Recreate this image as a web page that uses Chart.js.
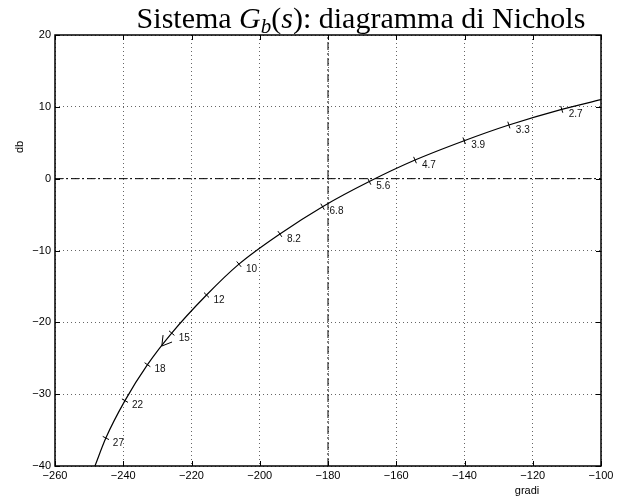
<!DOCTYPE html>
<html>
<head>
<meta charset="utf-8">
<title>Sistema Gb(s): diagramma di Nichols</title>
<script src="https://cdn.jsdelivr.net/npm/chart.js@4.4.1/dist/chart.umd.min.js"></script>
<style>
html, body { margin: 0; padding: 0; background: #fff; }
#wrap { width: 625px; height: 498px; }
</style>
</head>
<body>
<div id="wrap"><canvas id="nicholsChart" width="625" height="498"></canvas></div>
<script>

/* =====================================
   DATA
===================================== */

// frequency marks along the curve (rad/s)
const freqLabels = ["2.7", "3.3", "3.9", "4.7", "5.6", "6.8", "8.2", "10", "12", "15", "18", "22", "27"];

// phase (gradi) and gain (db) at each mark
const phaseDeg = [-111.5, -127.0, -140.1, -154.5, -167.9, -181.6, -194.1, -206.1, -215.6, -225.8, -232.9, -239.5, -245.1];
const gainDb = [9.65, 7.47, 5.28, 2.59, -0.4, -3.9, -7.7, -11.9, -16.2, -21.5, -25.9, -30.9, -36.1];

// where the curve leaves the axes
const curveStart = { phase: -248.3, gain: -40 };
const curveEnd = { phase: -100, gain: 11.0 };

// direction arrow on the curve (towards higher frequency)
const arrowAt = { phase: -228.7, gain: -23.3 };

// reference lines
const criticalPhase = -180;
const zeroDb = 0;

// tick labels
const xTickValues = [-260, -240, -220, -200, -180, -160, -140, -120, -100];
const yTickValues = [-40, -30, -20, -10, 0, 10, 20];

/* =====================================
   BUILD DATASETS
===================================== */

const curvePoints = [{ x: curveStart.phase, y: curveStart.gain }];

for (let i = phaseDeg.length - 1; i >= 0; i--) {
    curvePoints.push({ x: phaseDeg[i], y: gainDb[i] });
}

curvePoints.push({ x: curveEnd.phase, y: curveEnd.gain });

const markPoints = phaseDeg.map((p, i) => ({ x: p, y: gainDb[i] }));

const xMin = xTickValues[0];
const xMax = xTickValues[xTickValues.length - 1];
const yMin = yTickValues[0];
const yMax = yTickValues[yTickValues.length - 1];

const SANS = "'Liberation Sans', Arial, sans-serif";
const SERIF = "'Liberation Serif', 'Times New Roman', serif";

function fmtMinus(v) {
    return String(v).replace("-", "\u2212");
}

/* =====================================
   DECORATION PLUGIN
   (box, inward ticks, labels, arrow, title)
===================================== */

const nicholsDecor = {

    id: "nicholsDecor",

    afterDatasetsDraw(chart) {

        const ctx = chart.ctx;
        const sx = chart.scales.x;
        const sy = chart.scales.y;

        // frequency labels
        ctx.save();
        ctx.fillStyle = "#111";
        ctx.font = "10px " + SANS;
        ctx.textAlign = "left";
        ctx.textBaseline = "middle";
        freqLabels.forEach((lbl, i) => {
            const px = sx.getPixelForValue(phaseDeg[i]);
            const py = sy.getPixelForValue(gainDb[i]);
            ctx.fillText(lbl, px + 7, py + 5);
        });

        // arrow head, direction taken from marks "15" -> "18"
        const tipX = sx.getPixelForValue(arrowAt.phase);
        const tipY = sy.getPixelForValue(arrowAt.gain);
        const ax = sx.getPixelForValue(phaseDeg[9]) - sx.getPixelForValue(phaseDeg[10]);
        const ay = sy.getPixelForValue(gainDb[9]) - sy.getPixelForValue(gainDb[10]);
        const back = Math.atan2(ay, ax);
        const len = 11;
        const spread = 31 * Math.PI / 180;
        ctx.strokeStyle = "#000";
        ctx.lineWidth = 1;
        ctx.beginPath();
        ctx.moveTo(tipX + len * Math.cos(back - spread), tipY + len * Math.sin(back - spread));
        ctx.lineTo(tipX, tipY);
        ctx.lineTo(tipX + len * Math.cos(back + spread), tipY + len * Math.sin(back + spread));
        ctx.stroke();
        ctx.restore();
    },

    afterDraw(chart) {

        const ctx = chart.ctx;
        const a = chart.chartArea;
        const sx = chart.scales.x;
        const sy = chart.scales.y;
        const tick = 5;

        ctx.save();

        // axes box
        ctx.strokeStyle = "#000";
        ctx.lineWidth = 1.5;
        ctx.strokeRect(a.left, a.top, a.right - a.left, a.bottom - a.top);

        // inward ticks on all four sides
        ctx.lineWidth = 1;
        ctx.beginPath();
        xTickValues.forEach(v => {
            const px = Math.round(sx.getPixelForValue(v)) + 0.5;
            ctx.moveTo(px, a.bottom);
            ctx.lineTo(px, a.bottom - tick);
            ctx.moveTo(px, a.top);
            ctx.lineTo(px, a.top + tick);
        });
        yTickValues.forEach(v => {
            const py = Math.round(sy.getPixelForValue(v)) + 0.5;
            ctx.moveTo(a.left, py);
            ctx.lineTo(a.left + tick, py);
            ctx.moveTo(a.right, py);
            ctx.lineTo(a.right - tick, py);
        });
        ctx.stroke();

        // axis labels
        ctx.fillStyle = "#000";
        ctx.font = "11px " + SANS;
        ctx.textAlign = "center";
        ctx.textBaseline = "middle";
        ctx.fillText("gradi", 527, 491);

        ctx.save();
        ctx.translate(20, 147);
        ctx.rotate(-Math.PI / 2);
        ctx.fillText("db", 0, 0);
        ctx.restore();

        // title: Sistema G_b(s): diagramma di Nichols
        const size = 30;
        const parts = [
            { t: "Sistema ", f: size + "px " + SERIF, dy: 0 },
            { t: "G", f: "italic " + size + "px " + SERIF, dy: 0 },
            { t: "b", f: "italic " + Math.round(size * 0.7) + "px " + SERIF, dy: 5 },
            { t: "(", f: size + "px " + SERIF, dy: 0 },
            { t: "s", f: "italic " + size + "px " + SERIF, dy: 0 },
            { t: "): diagramma di Nichols", f: size + "px " + SERIF, dy: 0 }
        ];

        let total = 0;
        parts.forEach(p => {
            ctx.font = p.f;
            p.w = ctx.measureText(p.t).width;
            total += p.w;
        });

        let x = 361 - total / 2;
        const baseline = 28;
        ctx.textAlign = "left";
        ctx.textBaseline = "alphabetic";
        parts.forEach(p => {
            ctx.font = p.f;
            ctx.fillText(p.t, x, baseline + p.dy);
            x += p.w;
        });

        ctx.restore();
    }
};

/* =====================================
   CHART
===================================== */

const chartCtx = document.getElementById("nicholsChart").getContext("2d");

const nicholsChart = new Chart(chartCtx, {

    type: "scatter",

    data: {
        datasets: [
            {
                label: "curve",
                data: curvePoints,
                showLine: true,
                borderColor: "#000",
                borderWidth: 1.2,
                pointRadius: 0,
                cubicInterpolationMode: "monotone",
                order: 1
            },
            {
                label: "marks",
                data: markPoints,
                showLine: false,
                pointStyle: "line",
                pointRadius: 3.5,
                borderColor: "#000",
                pointBorderColor: "#000",
                pointBorderWidth: 1,
                pointRotation: (c) => {
                    const i = c.dataIndex;
                    const sx = c.chart.scales.x;
                    const sy = c.chart.scales.y;
                    const a = Math.max(i - 1, 0);
                    const b = Math.min(i + 1, phaseDeg.length - 1);
                    const dx = sx.getPixelForValue(phaseDeg[b]) - sx.getPixelForValue(phaseDeg[a]);
                    const dy = sy.getPixelForValue(gainDb[b]) - sy.getPixelForValue(gainDb[a]);
                    return Math.atan2(dy, dx) * 180 / Math.PI + 90;
                },
                order: 0
            },
            {
                label: "critical phase",
                data: [{ x: criticalPhase, y: yMin }, { x: criticalPhase, y: yMax }],
                showLine: true,
                borderColor: "#000",
                borderWidth: 1,
                borderDash: [8, 3, 2, 3],
                pointRadius: 0,
                order: 2
            },
            {
                label: "zero db",
                data: [{ x: xMin, y: zeroDb }, { x: xMax, y: zeroDb }],
                showLine: true,
                borderColor: "#000",
                borderWidth: 1,
                borderDash: [8, 3, 2, 3],
                pointRadius: 0,
                order: 2
            }
        ]
    },

    options: {

        responsive: false,
        devicePixelRatio: 1,
        animation: false,

        layout: {
            padding: { top: 35, right: 24, left: 0, bottom: 0 }
        },

        plugins: {
            legend: { display: false },
            title: { display: false },
            tooltip: { enabled: false }
        },

        scales: {

            x: {
                type: "linear",
                min: xMin,
                max: xMax,
                afterBuildTicks: (scale) => {
                    scale.ticks = xTickValues.map(v => ({ value: v }));
                },
                afterFit: (scale) => {
                    scale.height = 32;
                },
                ticks: {
                    color: "#000",
                    font: { family: SANS, size: 11 },
                    padding: 3,
                    maxRotation: 0,
                    callback: (v) => fmtMinus(v)
                },
                grid: {
                    color: "rgba(0,0,0,0.6)",
                    lineWidth: 1,
                    drawTicks: false
                },
                border: {
                    display: false,
                    dash: [1, 3]
                }
            },

            y: {
                type: "linear",
                min: yMin,
                max: yMax,
                afterBuildTicks: (scale) => {
                    scale.ticks = yTickValues.map(v => ({ value: v }));
                },
                afterFit: (scale) => {
                    scale.width = 55;
                },
                ticks: {
                    color: "#000",
                    font: { family: SANS, size: 11 },
                    padding: 4,
                    callback: (v) => fmtMinus(v)
                },
                grid: {
                    color: "rgba(0,0,0,0.6)",
                    lineWidth: 1,
                    drawTicks: false
                },
                border: {
                    display: false,
                    dash: [1, 3]
                }
            }
        }
    },

    plugins: [nicholsDecor]
});

</script>
</body>
</html>
